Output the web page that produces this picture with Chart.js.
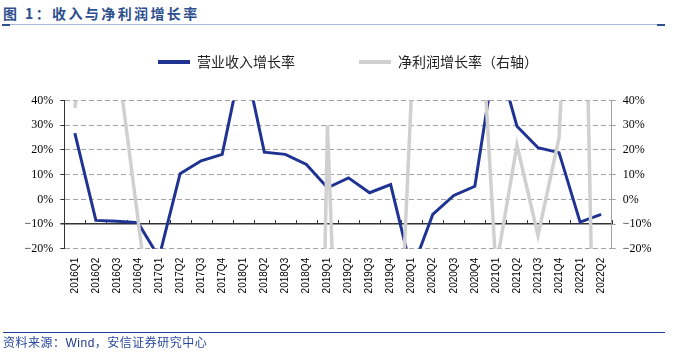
<!DOCTYPE html>
<html><head><meta charset="utf-8">
<script src="https://cdn.jsdelivr.net/npm/chart.js@4.4.1/dist/chart.umd.min.js"></script>
<style>
html,body{margin:0;padding:0;background:#fff;}
body{width:678px;height:358px;position:relative;overflow:hidden;font-family:'Noto Sans CJK SC',sans-serif;}
#wrap{position:absolute;left:0;top:-9.5px;width:678px;height:368px;}
#title{position:absolute;left:3px;top:6px;font-size:14px;line-height:14px;font-weight:bold;color:#2d4f8e;letter-spacing:2.4px;white-space:nowrap;}
.hl{position:absolute;}
#src{position:absolute;left:3px;top:335.5px;font-size:12px;line-height:12px;color:#2b4a9e;white-space:nowrap;letter-spacing:0.5px;}
#src span{font-family:'Liberation Sans',sans-serif;color:#1f3a8f;}
</style></head>
<body>
<div id="title">图 1：收入与净利润增长率</div>
<div class="hl" style="left:3px;top:24px;width:662px;height:1px;background:#a7b9d8"></div>
<div class="hl" style="left:2px;top:24px;width:8px;height:2px;background:#2d4f8e"></div>
<div class="hl" style="left:657px;top:24px;width:8px;height:2px;background:#2d4f8e"></div>
<div id="wrap"><canvas id="c" width="678" height="368"></canvas></div>
<div class="hl" style="left:3px;top:331.5px;width:662px;height:1.5px;background:#1f3f97"></div>
<div id="src">资料来源：<span>Wind</span>，安信证券研究中心</div>
<script>
const categories = ['2016Q1','2016Q2','2016Q3','2016Q4','2017Q1','2017Q2','2017Q3','2017Q4','2018Q1','2018Q2','2018Q3','2018Q4','2019Q1','2019Q2','2019Q3','2019Q4','2020Q1','2020Q2','2020Q3','2020Q4','2021Q1','2021Q2','2021Q3','2021Q4','2022Q1','2022Q2'];
const revenueGrowth = [26.8,-8.5,-8.9,-9.4,-23.5,10.4,15.6,18.2,59,19.1,18.2,14.1,4.7,8.7,2.7,6.0,-29,-6.1,1.6,5.3,60,29.6,20.9,18.9,-9.2,-6.1];
const profitGrowth = [37,95,58,-8,-75,-60,-45,-70,-55,-80,-60,-400,30,-200,-90,-144,45,150,90,118,-28,22,-14.6,25,200,-220];
const axisMin = -20, axisMax = 40, axisStep = 10;
const seriesNames = ['营业收入增长率','净利润增长率（右轴）'];

const BLUE = '#1f3392', GRAY = '#d0d0d0';
const fmt = v => (v < 0 ? '\u2212' + Math.abs(v) : String(v)) + '%';

const axisTicks = {
  id: 'axisTicks',
  beforeDatasetsDraw(chart) {
    const xs = chart.scales.x, ys = chart.scales.y, ctx = chart.ctx;
    const y0 = ys.getPixelForValue(-10);
    ctx.save();
    ctx.strokeStyle = '#333'; ctx.lineWidth = 1;
    ctx.beginPath();
    for (let i = 1; i <= categories.length; i++) {
      const x = i < categories.length ? (xs.getPixelForValue(i - 1) + xs.getPixelForValue(i)) / 2 : chart.chartArea.right;
      const xr = Math.round(x) + 0.5;
      ctx.moveTo(xr, y0); ctx.lineTo(xr, y0 - 4);
    }
    ctx.stroke();
    ctx.restore();
  }
};

new Chart(document.getElementById('c'), {
  type: 'line',
  data: {
    labels: categories,
    datasets: [
      {label: seriesNames[0], data: revenueGrowth, borderColor: BLUE, backgroundColor: BLUE, borderWidth: 3, pointRadius: 0, tension: 0, yAxisID: 'y', order: 1},
      {label: seriesNames[1], data: profitGrowth, borderColor: GRAY, backgroundColor: GRAY, borderWidth: 3.5, pointRadius: 0, tension: 0, yAxisID: 'y1', order: 0}
    ]
  },
  options: {
    responsive: false, animation: false, devicePixelRatio: 1,
    layout: {padding: {left: 18, right: 0, top: 0, bottom: 0}},
    plugins: {
      legend: {
        display: true, position: 'top', align: 'center',
        labels: {
          font: {family: "'Noto Sans CJK SC'", size: 14}, color: '#222',
          boxWidth: 32, boxHeight: 4, padding: 64,
          sort: (a, b) => a.datasetIndex - b.datasetIndex,
          generateLabels(chart) {
            return Chart.defaults.plugins.legend.labels.generateLabels(chart)
              .map(l => Object.assign(l, {lineWidth: 0, fillStyle: l.strokeStyle}));
          }
        }
      },
      subtitle: {display: true, text: ' ', weight: 500, position: 'top', font: {size: 10}, padding: {top: 0, bottom: 9.5}},
      tooltip: {enabled: false}
    },
    scales: {
      x: {
        type: 'category', offset: true,
        grid: {display: false, drawTicks: false},
        border: {display: false},
        ticks: {autoSkip: false, minRotation: 90, maxRotation: 90, padding: 9, font: {family: "'Liberation Sans'", size: 10}, color: '#000'},
        afterFit(s) { s.height = 110.2; }
      },
      y: {
        position: 'left', min: axisMin, max: axisMax,
        ticks: {stepSize: axisStep, padding: 7, callback: fmt, font: {family: "'Liberation Serif'", size: 12}, color: '#000'},
        grid: {
          color: c => (c.tick && c.tick.value === -10) ? '#333' : '#a3a3a3',
          lineWidth: c => (c.tick && c.tick.value === -10) ? 1.5 : 1,
          tickColor: '#333', tickLength: 4, drawTicks: true
        },
        border: {display: true, color: '#333', width: 1, dash: c => (c.type === 'tick' && c.tick && c.tick.value !== -10) ? [5, 3] : []},
        afterFit(s) { s.width = 46.3; }
      },
      y1: {
        position: 'right', min: axisMin, max: axisMax,
        ticks: {stepSize: axisStep, padding: 7, callback: fmt, font: {family: "'Liberation Serif'", size: 12}, color: '#000'},
        grid: {drawOnChartArea: false, tickColor: '#a0a0a0', tickLength: 4},
        border: {display: true, color: '#a0a0a0', width: 1},
        afterFit(s) { s.width = 66.3; }
      }
    }
  },
  plugins: [axisTicks]
});
</script>
</body></html>
